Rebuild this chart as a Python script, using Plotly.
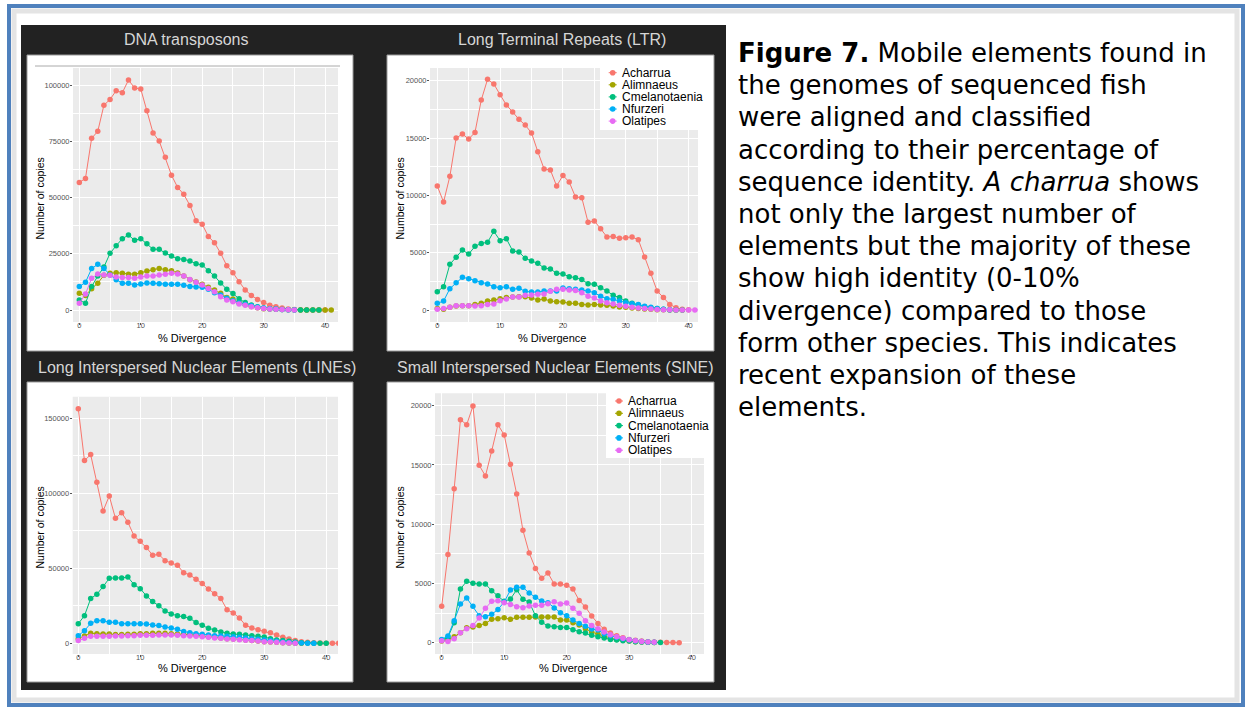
import plotly.graph_objects as go

W, H = 1245, 707

species = ["Acharrua", "Alimnaeus", "Cmelanotaenia", "Nfurzeri", "Olatipes"]
colors = ["#F8766D", "#A3A500", "#00BF7D", "#00B0F6", "#E76BF3"]
panel_titles = ["DNA transposons", "Long Terminal Repeats (LTR)",
                "Long Interspersed Nuclear Elements (LINEs)",
                "Small Interspersed Nuclear Elements (SINE)"]
x_ticks = [0, 10, 20, 30, 40]

# ---- DNA transposons ----
dna_acharrua = [56700, 58500, 76300, 79400, 91000, 93600, 97500, 96600, 102200, 98700, 98200, 88600, 78700,
                75100, 67900, 59900, 54500, 51400, 46500, 39700, 38100, 32700, 29900, 25200, 19700, 16600,
                12600, 8900, 6500, 4700, 3300, 2100, 1500, 900, 450, 200, 100, 50, 0, 0, 0]
dna_alimnaeus = [7400, 6400, 9500, 11900, 15400, 16300, 16600, 16300, 15900, 15900, 16600, 17300, 17900,
                 18500, 17900, 17500, 16400, 15100, 13500, 12400, 11400, 10100, 8900, 7400, 5600, 4900,
                 3300, 2400, 1600, 1000, 600, 400, 300, 200, 100, 50, 0, 0, 0, 0, 0, 0]
dna_cmelanotaenia = [4400, 3000, 10400, 15100, 19100, 25200, 28600, 31700, 33300, 31000, 31700, 29500, 27000,
                     27000, 25300, 24000, 22800, 22500, 21800, 20600, 20000, 17500, 15100, 12000, 9200, 7300,
                     5000, 3300, 2200, 1500, 900, 600, 400, 250, 150, 100, 50, 0, 0, 0]
dna_nfurzeri = [10400, 12300, 18400, 20300, 18500, 15600, 13500, 11900, 11900, 11100, 11600, 12000, 11900,
                11700, 11400, 11400, 11400, 11000, 10500, 10200, 10100, 9200, 7700, 6700, 5200, 4100, 3100,
                2500, 1900, 1300, 900, 600, 400, 200, 100, 50]
dna_olatipes = [3000, 7100, 14100, 16000, 15600, 15400, 14700, 14500, 14400, 14100, 14700, 15100, 15100,
                15600, 15900, 16300, 16000, 15100, 13600, 12300, 11100, 9600, 8100, 5900, 4400, 3700, 2700,
                2100, 1500, 1000, 700, 500, 300, 200, 100, 50]

# ---- LTR ----
ltr_acharrua = [10810, 9420, 11660, 15000, 15350, 14910, 15490, 18310, 20120, 19710, 18780, 17880, 17270,
                16630, 16130, 15440, 13810, 12300, 12210, 10810, 11740, 11160, 9850, 9800, 7650, 7760, 7090,
                6370, 6420, 6250, 6310, 6370, 6130, 4620, 3200, 1660, 1080, 490, 200, 60, 30]
ltr_alimnaeus = [120, 60, 230, 350, 380, 380, 490, 580, 780, 870, 990, 1080, 1130, 1160, 1160, 1050, 870,
                 960, 780, 730, 700, 580, 580, 490, 440, 490, 440, 410, 350, 260, 230, 170, 120, 90, 60, 30,
                 20, 10, 0, 0]
ltr_cmelanotaenia = [1600, 2030, 3980, 4590, 5230, 4880, 5550, 5810, 5900, 6860, 6050, 6220, 5150, 5060,
                     4510, 4270, 4070, 3660, 3580, 3200, 3140, 2910, 2820, 2650, 2300, 2240, 1950, 1660,
                     1280, 1080, 780, 580, 440, 290, 200, 120, 60, 30, 10, 0]
ltr_nfurzeri = [580, 780, 1860, 2380, 2850, 2730, 2560, 2380, 2270, 2030, 1950, 2030, 1800, 1890, 1630,
                1570, 1570, 1660, 1660, 1660, 1920, 1860, 1800, 1740, 1660, 1510, 1190, 990, 930, 780, 640,
                550, 470, 320, 230, 120, 60, 30]
ltr_olatipes = [60, 120, 230, 380, 380, 380, 350, 380, 490, 520, 810, 960, 1130, 1130, 1280, 1310, 1370,
                1400, 1630, 1800, 1800, 1740, 1690, 1510, 1190, 1050, 780, 640, 520, 410, 320, 230, 170,
                120, 80, 50, 30, 20, 10, 0, 0, 0, 0]

# ---- LINEs ----
line_acharrua = [156400, 121800, 125800, 107300, 88200, 98200, 83300, 87100, 80700, 71600, 68000, 63800,
                 58700, 59300, 55100, 53600, 52000, 47100, 45600, 42700, 39800, 36200, 33100, 29800, 22400,
                 20200, 16900, 12000, 10200, 9100, 8000, 7100, 5600, 4000, 2900, 1800, 1100, 700, 400, 200,
                 100, 50, 0]
line_alimnaeus = [3100, 4900, 6700, 6400, 6200, 6200, 5800, 5800, 6000, 6000, 6400, 6400, 6700, 6700, 6700,
                  6400, 6200, 6000, 5800, 5300, 4900, 4400, 4000, 3600, 3100, 2900, 2700, 2200, 1800, 1600,
                  1100, 900, 700, 400, 200, 100, 0]
line_cmelanotaenia = [13100, 18400, 29800, 32700, 37800, 43300, 43600, 43600, 44200, 39100, 36400, 31600,
                      27800, 25100, 21600, 19600, 18400, 17800, 16700, 13800, 12000, 10000, 8900, 7600, 6700,
                      6200, 6000, 5600, 5100, 4700, 4200, 3100, 2200, 1800, 1300, 900, 400, 200, 100, 0, 0]
line_nfurzeri = [5100, 8400, 13300, 15100, 15100, 14000, 14000, 13100, 13100, 13100, 13100, 12900, 12200,
                 11800, 10900, 10200, 9300, 7800, 7100, 6400, 6000, 5600, 5100, 4900, 4700, 4400, 4000, 3600,
                 3100, 2700, 2200, 1800, 1300, 900, 600, 400, 200, 100, 0]
line_olatipes = [1800, 3300, 4700, 4700, 4700, 4700, 4900, 4900, 5100, 5100, 5300, 5300, 5300, 5600, 5600,
                 5600, 5300, 5100, 4900, 4700, 4400, 4000, 3600, 3300, 2900, 2700, 2400, 2000, 1800, 1600,
                 1100, 900, 700, 400, 200, 100]

# ---- SINE ----
sine_acharrua = [3070, 7450, 13000, 18820, 18400, 19970, 14970, 14070, 16180, 18400, 17530, 15050, 12550,
                 9480, 7570, 6270, 5430, 5880, 4950, 4950, 4840, 4530, 3570, 3010, 2250, 1630, 1130, 820,
                 590, 420, 280, 200, 140, 80, 60, 30, 20, 10, 0]
sine_alimnaeus = [140, 230, 510, 840, 1270, 1320, 1460, 1630, 1970, 2030, 2110, 1970, 2140, 2140, 2140, 2170,
                  2170, 2170, 2170, 1910, 1910, 1690, 1490, 1180, 900, 730, 530, 390, 280, 200, 140, 90, 60,
                  30, 10]
sine_cmelanotaenia = [230, 450, 1690, 4530, 5180, 5010, 4950, 4950, 4390, 3970, 3490, 3680, 4470, 3660, 3430,
                      2280, 1720, 1410, 1350, 1290, 1290, 1100, 930, 820, 620, 510, 390, 280, 230, 170, 140,
                      80, 50, 30, 20, 10]
sine_nfurzeri = [280, 560, 1860, 3260, 3770, 3070, 2280, 2190, 2390, 2810, 3430, 4440, 4670, 4670, 4190, 3830,
                 3520, 3380, 2930, 2530, 2280, 1910, 1630, 1380, 1150, 1070, 760, 590, 450, 340, 250, 170,
                 100, 60, 30]
sine_olatipes = [170, 110, 340, 840, 1180, 1460, 2080, 2900, 3490, 3540, 3380, 3230, 3040, 2950, 3090, 3150,
                 3150, 3290, 3460, 3260, 3350, 2900, 2480, 1860, 1460, 1180, 900, 680, 510, 370, 250, 170,
                 100, 60, 30]

caption_lines = [
    "<b>Figure 7.</b> Mobile elements found in",
    "the genomes of sequenced fish",
    "were aligned and classified",
    "according to their percentage of",
    "sequence identity. <i>A charrua</i> shows",
    "not only the largest number of",
    "elements but the majority of these",
    "show high identity (0-10%",
    "divergence) compared to those",
    "form other species. This indicates",
    "recent expansion of these",
    "elements.",
]

# ---------------- layout config (pixel geometry) ----------------
def X(px):
    return px / W


def Y(py):
    return 1 - py / H


panels = [
    dict(series=[dna_acharrua, dna_alimnaeus, dna_cmelanotaenia, dna_nfurzeri, dna_olatipes],
         plot=(73, 68, 338, 322), box=(27, 55, 353, 351), xr=[-1.03, 42.1], yr=[-5333, 107556],
         ydt=25000, title_xy=(186, 39), ytitle_xy=(39.5, 199), xtitle_xy=(192, 338), legend=None),
    dict(series=[ltr_acharrua, ltr_alimnaeus, ltr_cmelanotaenia, ltr_nfurzeri, ltr_olatipes],
         plot=(430, 68, 698, 322), box=(387, 55, 714, 351), xr=[-1.16, 41.5], yr=[-1047, 21108],
         ydt=5000, title_xy=(562, 39), ytitle_xy=(399.5, 199), xtitle_xy=(552, 338),
         legend=dict(box=(600, 67, 698, 130), key_x=612.7, y0=72.7, dy=12.1)),
    dict(series=[line_acharrua, line_alimnaeus, line_cmelanotaenia, line_nfurzeri, line_olatipes],
         plot=(72.7, 396.7, 338, 654), box=(27, 382, 353, 682), xr=[-0.9, 41.9], yr=[-7133, 164400],
         ydt=50000, title_xy=(197, 367), ytitle_xy=(39.5, 528), xtitle_xy=(192, 668), legend=None),
    dict(series=[sine_acharrua, sine_alimnaeus, sine_cmelanotaenia, sine_nfurzeri, sine_olatipes],
         plot=(435, 393.3, 704, 654), box=(387, 382, 714, 682), xr=[-1.07, 41.97], yr=[-954, 21046],
         ydt=5000, title_xy=(555, 367), ytitle_xy=(399.5, 528), xtitle_xy=(573, 668),
         legend=dict(box=(606, 393, 704, 458), key_x=619, y0=401, dy=12.3)),
]

FONT = "Liberation Sans, Arial, Helvetica, sans-serif"

fig = go.Figure()
shapes = []
annotations = []

# outer frame
shapes.append(dict(type="rect", xref="paper", yref="paper", x0=X(14), x1=X(1237), y0=Y(11), y1=Y(700),
                   line=dict(color="#e4e4e4", width=5), fillcolor="white", layer="below"))
shapes.append(dict(type="rect", xref="paper", yref="paper", x0=X(9), x1=X(1243), y0=Y(6), y1=Y(705),
                   line=dict(color="#4F81BD", width=4), layer="below"))
# dark panel
shapes.append(dict(type="rect", xref="paper", yref="paper", x0=X(21), x1=X(726), y0=Y(25), y1=Y(690),
                   line=dict(width=0), fillcolor="#222222", layer="below"))

for i, p in enumerate(panels):
    n = "" if i == 0 else str(i + 1)
    xa, ya = "x" + n, "y" + n
    l, t, r, b = p["plot"]
    bl, bt, br, bb = p["box"]
    shapes.append(dict(type="rect", xref="paper", yref="paper", x0=X(bl), x1=X(br), y0=Y(bt), y1=Y(bb),
                       line=dict(color="#9a9a9a", width=1), fillcolor="white", layer="below"))
    # grey plotting panel
    shapes.append(dict(type="rect", xref=xa + " domain", yref=ya + " domain", x0=0, x1=1, y0=0, y1=1,
                       line=dict(width=0), fillcolor="#EBEBEB", layer="below"))
    for k, vals in enumerate(p["series"]):
        fig.add_trace(go.Scatter(
            x=list(range(len(vals))), y=vals, mode="lines+markers", name=species[k],
            line=dict(color=colors[k], width=1), marker=dict(color=colors[k], size=5.5),
            xaxis=xa, yaxis=ya, showlegend=False, hoverinfo="x+y+name"))
    axis_common = dict(showline=False, zeroline=False, ticks="outside", ticklen=2, tickwidth=1,
                       tickcolor="#555555", gridcolor="white", gridwidth=1,
                       tickfont=dict(family=FONT, size=7.5, color="#555555"))
    fig.layout["xaxis" + n] = dict(domain=[X(l), X(r)], range=p["xr"], anchor=ya, tickvals=x_ticks,
                                   ticklabelstandoff=-6,
                                   minor=dict(dtick=5, tick0=0, showgrid=True, gridcolor="white", gridwidth=0.5),
                                   **axis_common)
    fig.layout["yaxis" + n] = dict(domain=[Y(b), Y(t)], range=p["yr"], anchor=xa, dtick=p["ydt"], tick0=0,
                                   tickformat="d", ticklabelstandoff=-1,
                                   minor=dict(dtick=p["ydt"] / 2, tick0=0, showgrid=True, gridcolor="white",
                                              gridwidth=0.5),
                                   **axis_common)
    # titles
    tx, ty = p["title_xy"]
    annotations.append(dict(text=panel_titles[i], x=X(tx), y=Y(ty), xref="paper", yref="paper",
                            showarrow=False, xanchor="center", yanchor="middle",
                            font=dict(family=FONT, size=16, color="#d6d6d6")))
    yx, yy = p["ytitle_xy"]
    annotations.append(dict(text="Number of copies", x=X(yx), y=Y(yy), xref="paper", yref="paper",
                            showarrow=False, textangle=-90, xanchor="center", yanchor="middle",
                            font=dict(family=FONT, size=10.5, color="black")))
    xx, xy = p["xtitle_xy"]
    annotations.append(dict(text="% Divergence", x=X(xx), y=Y(xy), xref="paper", yref="paper",
                            showarrow=False, xanchor="center", yanchor="middle",
                            font=dict(family=FONT, size=11, color="black")))
    lg = p["legend"]
    if lg:
        gl, gt, gr, gb = lg["box"]
        shapes.append(dict(type="rect", xref="paper", yref="paper", x0=X(gl), x1=X(gr), y0=Y(gt), y1=Y(gb),
                           line=dict(width=0), fillcolor="white", layer="above"))
        for k, sp in enumerate(species):
            cy = lg["y0"] + k * lg["dy"]
            kx = lg["key_x"]
            shapes.append(dict(type="line", xref="paper", yref="paper", x0=X(kx - 4), x1=X(kx + 4),
                               y0=Y(cy), y1=Y(cy), line=dict(color=colors[k], width=1), layer="above"))
            shapes.append(dict(type="circle", xref="paper", yref="paper", x0=X(kx - 2.8), x1=X(kx + 2.8),
                               y0=Y(cy - 2.8), y1=Y(cy + 2.8), line=dict(width=0), fillcolor=colors[k],
                               layer="above"))
            annotations.append(dict(text=sp, x=X(kx + 7.5), y=Y(cy), xref="paper", yref="paper",
                                    showarrow=False, xanchor="left", yanchor="middle",
                                    font=dict(family=FONT, size=12, color="black")))

# artefact line at top of first panel
shapes.append(dict(type="line", xref="paper", yref="paper", x0=X(35), x1=X(340), y0=Y(66), y1=Y(66),
                   line=dict(color="#aaaaaa", width=1), layer="below"))

# caption text
for j, txt in enumerate(caption_lines):
    annotations.append(dict(text=txt, x=X(736), y=Y(53 + j * 32.2), xref="paper", yref="paper",
                            showarrow=False, xanchor="left", yanchor="middle",
                            font=dict(family="DejaVu Sans, Verdana, sans-serif", size=26, color="black")))

fig.update_layout(width=W, height=H, margin=dict(l=0, r=0, t=0, b=0), paper_bgcolor="white",
                  plot_bgcolor="#EBEBEB", shapes=shapes, annotations=annotations, showlegend=False)

fig.write_html("out.html", config={"displayModeBar": False},
               post_script="document.body.style.margin='0px';document.body.style.overflow='hidden';")
